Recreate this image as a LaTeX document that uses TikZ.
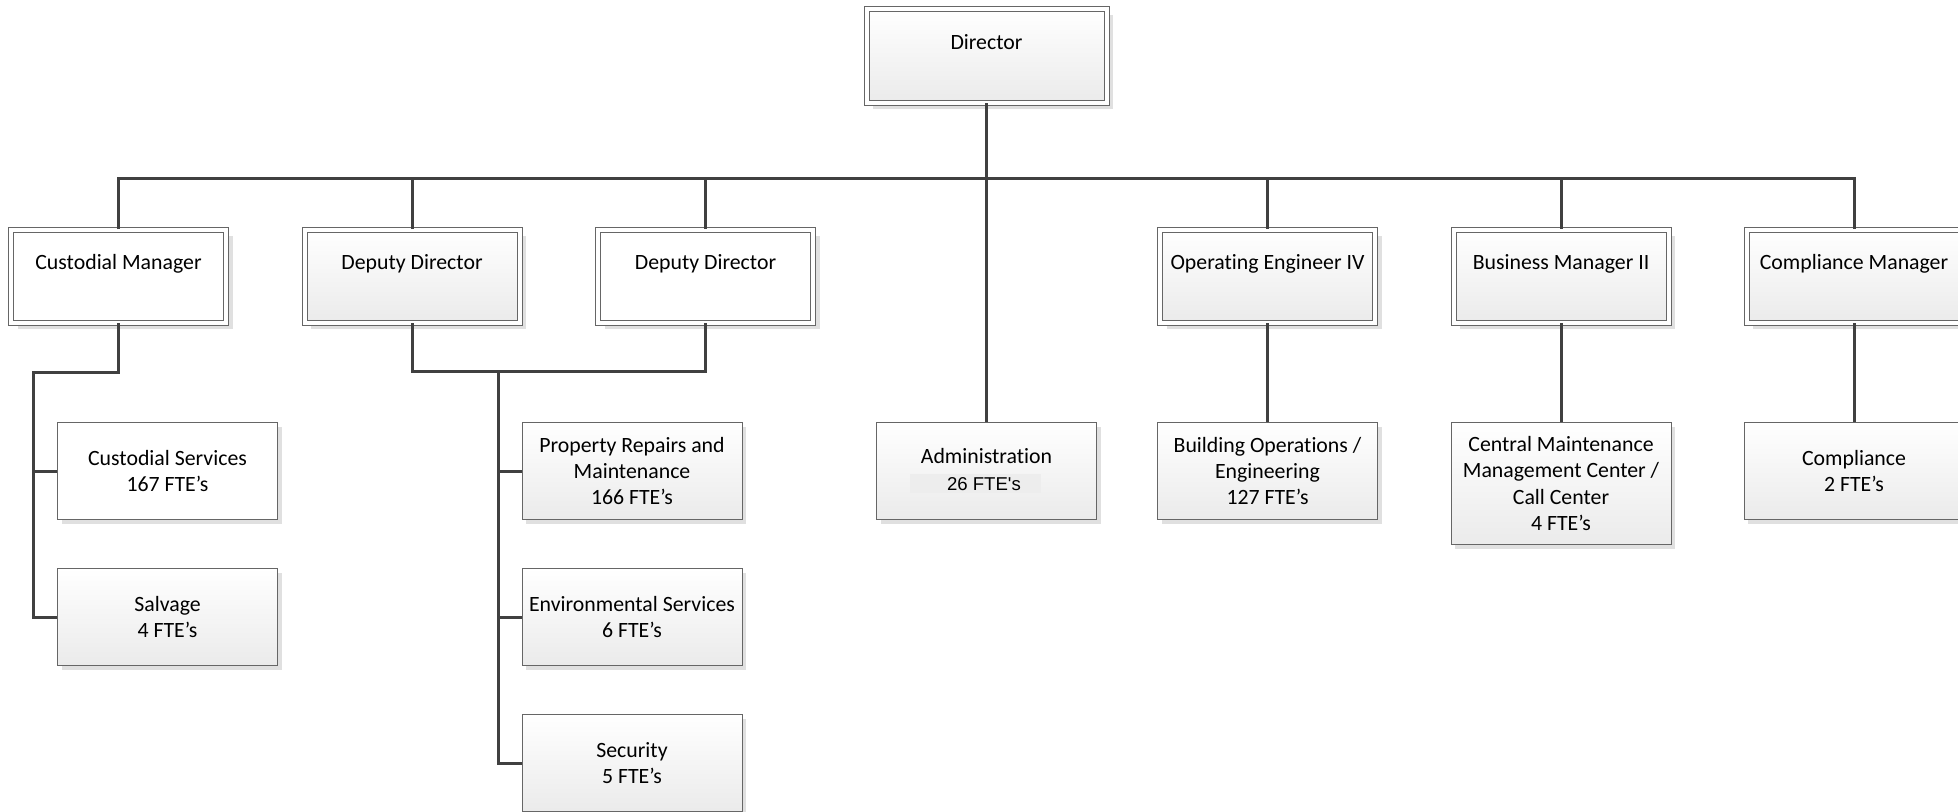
\documentclass[tikz,border=0pt]{standalone}
\usepackage{fontspec}
\setmainfont{Carlito}[Ligatures={TeX,NoCommon}]
\newfontfamily\arialfont{Liberation Sans}
\usetikzlibrary{shadows}

\begin{document}
\begin{tikzpicture}[
        x=0.5pt, y=-0.5pt,
        every node/.style={font=\fontsize{10.9}{13.2}\selectfont, align=center},
        link/.style={draw=black!75, line width=1.5pt},
        boss/.style={draw=black!60, line width=0.5pt, double=white, double distance=2pt,
            minimum width=107.5pt, minimum height=46.5pt, inner sep=0pt,
            text height=7.5pt, text depth=14pt,
            drop shadow={shadow xshift=3.25pt, shadow yshift=-3.25pt, fill=black!12, opacity=1}},
        unit/.style={draw=black!60, line width=0.5pt,
            minimum width=110pt, minimum height=48.5pt, inner sep=0pt,
            drop shadow={shadow xshift=2pt, shadow yshift=-2pt, fill=black!12, opacity=1}},
        grad/.style={top color=white, bottom color=black!8},
        plain/.style={fill=white}
    ]
        \useasboundingbox (0,0) rectangle (1958,811);
        \clip (0,0) rectangle (1958,811);

        % managers
        \node[boss, grad, minimum width=120pt, minimum height=47pt] (dir) at (986.5,55.5) {Director};
        \node[boss, plain] (cmgr) at (118.5,276) {Custodial Manager};
        \node[boss, grad] (dep1) at (412,276) {Deputy Director};
        \node[boss, plain] (dep2) at (705.5,276) {Deputy Director};
        \node[boss, grad] (openg) at (1267.5,276) {Operating Engineer IV};
        \node[boss, grad] (bizmgr) at (1561,276) {Business Manager II};
        \node[boss, grad] (compmgr) at (1854,276) {Compliance Manager};

        % units
        \node[unit, plain] (custsvc) at (167.5,471) {Custodial Services\\167 FTE’s};
        \node[unit, grad] (salvage) at (167.5,617) {Salvage\\4 FTE’s};
        \node[unit, grad] (repairs) at (632,471) {Property Repairs and\\Maintenance\\166 FTE’s};
        \node[unit, grad] (envsvc) at (632,617) {Environmental Services\\6 FTE’s};
        \node[unit, grad] (security) at (632,763) {Security\\5 FTE’s};
        \node[unit, grad] (admin) at (986.5,471) {Administration\\\hspace*{-11pt}{\fboxsep=1.5pt\colorbox{black!7}{\makebox[62.5pt][l]{\hspace{17pt}\arialfont\fontsize{9.3}{11}\selectfont 26 FTE's}}}};
        \node[unit, grad] (buildops) at (1267.5,471) {Building Operations /\\Engineering\\127 FTE’s};
        \node[unit, grad, minimum height=61pt] (cmmc) at (1561,483.5) {Central Maintenance\\Management Center /\\Call Center\\4 FTE’s};
        \node[unit, grad] (compl) at (1854,471) {Compliance\\2 FTE’s};

        % connectors
        \coordinate (bus) at (986.5,178);
        \coordinate (custrail) at (33.5,372);
        \coordinate (deprail) at (498,371);

        \draw[link] (dir) -- (admin);
        \draw[link] (cmgr.north) |- (compmgr.north |- bus) -- (compmgr.north);
        \foreach \n in {dep1,dep2,openg,bizmgr}
            \draw[link] (\n.north |- bus) -- (\n.north);

        \draw[link] (cmgr.south) |- (custrail) |- (salvage.west);
        \draw[link] (custrail |- custsvc.west) -- (custsvc.west);

        \draw[link] (dep1.south) |- (deprail) -| (dep2.south);
        \draw[link] (deprail) |- (security.west);
        \foreach \n in {repairs,envsvc}
            \draw[link] (deprail |- \n.west) -- (\n.west);

        \draw[link] (openg) -- (buildops);
        \draw[link] (bizmgr) -- (cmmc);
        \draw[link] (compmgr) -- (compl);
    \end{tikzpicture}
\end{document}
